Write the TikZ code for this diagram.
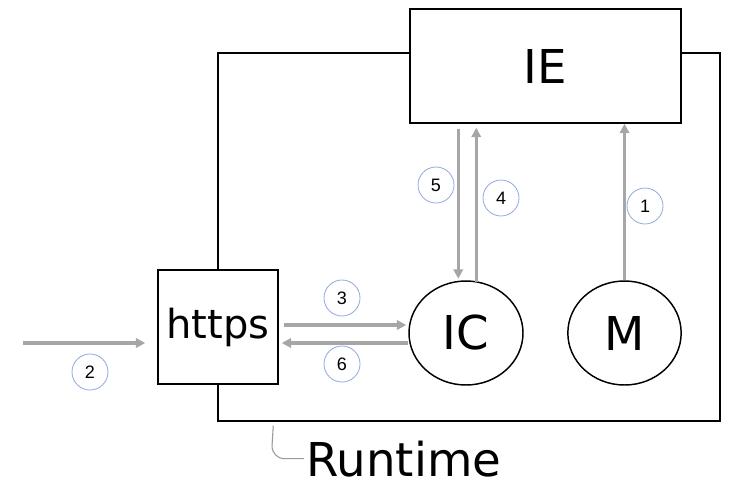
\documentclass[tikz,border=0pt]{standalone}
\usepackage{fontspec}
\setmainfont{DejaVu Sans}
\newfontfamily\numfont{Liberation Sans}
\usetikzlibrary{calc,positioning,arrows.meta,shapes.geometric}
\definecolor{flowgray}{HTML}{A6A6A6}
\definecolor{tagblue}{HTML}{8EA9DB}
\definecolor{leadgray}{HTML}{9A9A9A}

\tikzset{
  block/.style={draw=black, line width=1.1pt, fill=white, inner sep=0pt},
  bigtext/.style={font=\fontsize{35}{38}\selectfont},
  flow/.style={draw=flowgray, line width=2.4pt, -{Triangle[length=7pt,width=7pt]}},
  tag/.style={circle, draw=tagblue, line width=0.6pt, minimum size=27pt, inner sep=0pt,
              font=\numfont\fontsize{13.5}{14}\selectfont},
}

\begin{document}
\begin{tikzpicture}[x=0.75pt,y=-0.75pt]
				\useasboundingbox (0,0) rectangle (732,486);
				
				% runtime frame
				\node[draw=black, line width=1.1pt, minimum width=376.5pt, minimum height=276pt, inner sep=0pt]
				(runtime) at (469,237) {};
				
				\node[block, bigtext, minimum width=203.25pt, minimum height=85.5pt] (IE) at (545.5,66) {IE};
				\node[block, font=\fontsize{30}{32}\selectfont, minimum width=90pt, minimum height=85.5pt] (https) at (218,327) {https};
				\node[block, bigtext, ellipse, minimum width=85.5pt, minimum height=78pt] (IC) at (466,333) {IC};
				\node[block, bigtext, ellipse, minimum width=85pt, minimum height=78pt] (M) at (624.5,333) {M};
				
				\node[bigtext, anchor=base west, inner sep=0pt] (Runtime) at (306,476) {Runtime};
				\draw[leadgray, line width=0.8pt, rounded corners=10pt]
				($(runtime.south west)+(56,4)$) -- ($(runtime.south west)+(54,37)$) -- ($(Runtime.west)+(-2,0)$);
				
				\coordinate (in) at (23,343);
				
				% flows
				\draw[flow] (M.north) -- (M.north |- IE.south);
				\draw[flow] (in) -- ($(https.west)+(-12,16)$);
				\draw[flow] ($(https.east)+(5,-2)$) -- ($(IC.west)+(-2,-8)$);
				\draw[flow] ($(IE.south west)+(67,158)$) -- ($(IE.south west)+(67,4)$);
				\draw[flow] ($(IE.south west)+(49,5)$) -- ($(IE.south west)+(49,155)$);
				\draw[flow] ($(IC.west)+(0,10)$) -- ($(https.east)+(3,16)$);
				
				% step numbers
				\node[tag] (lbl1) at (645,206) {1};
				\node[tag] (lbl2) at (90,372) {2};
				\node[tag] (lbl3) at (342,298) {3};
				\node[tag] (lbl4) at (501,198) {4};
				\node[tag] (lbl5) at (436,185) {5};
				\node[tag] (lbl6) at (342,364) {6};
			\end{tikzpicture}
\end{document}
